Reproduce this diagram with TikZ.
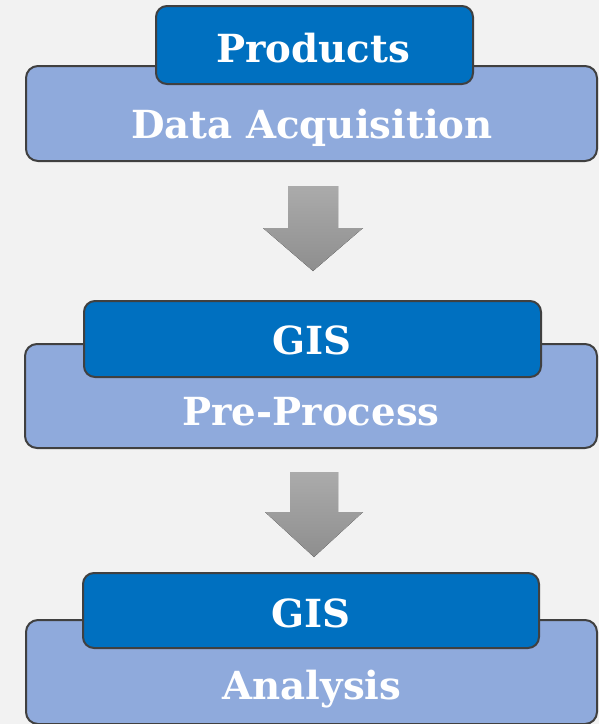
\documentclass[tikz,border=0pt]{standalone}
\usepackage{fontspec}
\setmainfont{DejaVu Serif}
\definecolor{bgc}{HTML}{F2F2F2}
\definecolor{boxc}{HTML}{8FAADC}
\definecolor{tabc}{HTML}{0070C0}
\definecolor{edgec}{HTML}{404040}
\definecolor{arrtop}{HTML}{ABABAB}
\definecolor{arrbot}{HTML}{8E8E8E}
\begin{document}
\begin{tikzpicture}[x=1pt,y=-1pt,
  bigbox/.style={draw=edgec,fill=boxc,line width=2pt,rounded corners=12pt,inner sep=0pt},
  tabbox/.style={draw=edgec,fill=tabc,line width=2pt,rounded corners=11pt,inner sep=0pt},
  lbl/.style={text=white,font=\fontsize{38.7}{44}\selectfont\bfseries,anchor=base,inner sep=0pt},
  blockarrow/.style={top color=arrtop,bottom color=arrbot,draw=none}]
\fill[bgc] (0,0) rectangle (599,724);
\useasboundingbox (0,0) rectangle (599,724);
% stage 1
\node[bigbox,minimum width=571pt,minimum height=95pt] (b1) at (311.5,113.5) {};
\node[tabbox,minimum width=317pt,minimum height=78pt] (t1) at (314.5,45) {};
\node[lbl] (l1) at (313,62) {Products};
\node[lbl] (d1) at (312,138) {Data Acquisition};
% stage 2
\node[bigbox,minimum width=572pt,minimum height=104pt] (b2) at (311,396) {};
\node[tabbox,minimum width=457pt,minimum height=76pt] (t2) at (312.5,339) {};
\node[lbl] (l2) at (312,354) {GIS};
\node[lbl] (d2) at (311,425) {Pre-Process};
% stage 3
\node[bigbox,minimum width=571pt,minimum height=104pt] (b3) at (311.5,672) {};
\node[tabbox,minimum width=456pt,minimum height=75pt] (t3) at (311,610.5) {};
\node[lbl] (l3) at (311,627) {GIS};
\node[lbl] (d3) at (312,699) {Analysis};
% arrows
\fill[blockarrow] (288,186) -- (338,186) -- (338,228) -- (363,228) -- (313,271) -- (263,228) -- (288,228) -- cycle;
\fill[blockarrow] (290,472) -- (338,472) -- (338,512) -- (363,512) -- (314,557) -- (265,512) -- (290,512) -- cycle;
\end{tikzpicture}
\end{document}
